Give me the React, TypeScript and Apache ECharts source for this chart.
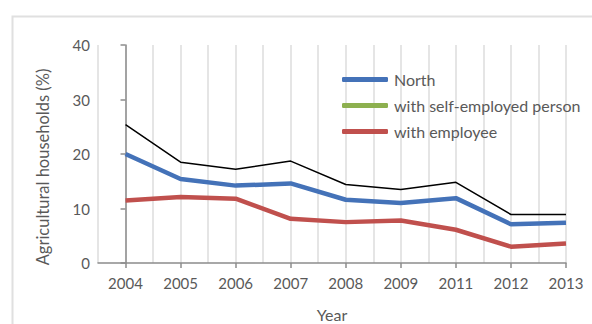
import React, { useEffect, useRef } from "react";
import * as echarts from "echarts";

const years = ["2004", "2005", "2006", "2007", "2008", "2009", "2011", "2012", "2013"];
const total = [25.4, 18.5, 17.2, 18.7, 14.4, 13.5, 14.8, 8.9, 8.9];
const north = [20.0, 15.4, 14.2, 14.6, 11.6, 11.0, 11.9, 7.1, 7.4];
const selfEmployed: (number | null)[] = [];
const employee = [11.45, 12.1, 11.8, 8.1, 7.5, 7.8, 6.1, 3.0, 3.6];
const yTicks = [0, 10, 20, 30, 40];

const FONT = "Lato, 'Open Sans', sans-serif";
const GRAY = "#595959";
const AXIS = "#8c8c8c";

function toPoints(arr: (number | null)[]) {
  return arr.map((v, i) => [i, v]);
}

export default function App() {
  const ref = useRef<HTMLDivElement>(null);
  useEffect(() => {
    if (!ref.current) return;
    const chart = echarts.init(ref.current, undefined, { renderer: "svg" });
    const idx = years.map((_, i) => i);
    chart.setOption({
      animation: false,
      backgroundColor: "#ffffff",
      graphic: [
        {
          type: "rect",
          left: 10,
          top: 14,
          shape: { width: 620, height: 360 },
          style: { fill: "none", stroke: "#e0e0e0", lineWidth: 2 },
          silent: true,
          z: -1,
        },
      ],
      grid: {
        left: 98,
        right: 26,
        top: 45,
        bottom: 61,
        containLabel: false,
        outerBoundsMode: "none",
      },
      legend: {
        orient: "vertical",
        left: 342,
        top: 70,
        padding: 0,
        itemWidth: 46,
        itemHeight: 5,
        itemGap: 7,
        itemStyle: { borderWidth: 0 },
        icon: "roundRect",
        textStyle: { color: GRAY, fontFamily: FONT, fontSize: 16, lineHeight: 19, padding: [0, 0, 0, 1] },
        data: ["North", "with self-employed person", "with employee"],
      },
      xAxis: [
        {
          type: "value",
          min: -0.5,
          max: years.length - 1,
          interval: 0.5,
          name: "Year",
          nameLocation: "middle",
          nameGap: 43,
          nameTextStyle: { color: GRAY, fontFamily: FONT, fontSize: 16 },
          axisLine: { show: true, onZero: false, lineStyle: { color: AXIS, width: 1.5 } },
          axisTick: {
            show: true,
            length: 5,
            customValues: idx,
            lineStyle: { color: AXIS, width: 1.5 },
          },
          axisLabel: {
            customValues: idx,
            color: GRAY,
            fontFamily: FONT,
            fontSize: 15,
            margin: 12,
            formatter: (v: number) => years[Math.round(v)] ?? "",
          },
          splitLine: { show: false },
          z: 3,
        },
        {
          type: "value",
          position: "bottom",
          min: -0.5,
          max: years.length - 1,
          interval: 0.5,
          axisLine: { show: false },
          axisTick: { show: false },
          axisLabel: { show: false },
          splitLine: { show: true, lineStyle: { color: "#dcdcdc", width: 1.5 } },
          z: 0,
        },
      ],
      yAxis: {
        type: "value",
        min: yTicks[0],
        max: yTicks[yTicks.length - 1],
        interval: 10,
        name: "Agricultural households (%)",
        nameLocation: "middle",
        nameGap: 47,
        nameTextStyle: { color: GRAY, fontFamily: FONT, fontSize: 16.5, padding: [0, 26, 0, 0] },
        axisLine: { show: true, lineStyle: { color: AXIS, width: 1.5 } },
        axisTick: { show: true, length: 5, lineStyle: { color: AXIS, width: 1.5 } },
        axisLabel: { color: GRAY, fontFamily: FONT, fontSize: 15, margin: 8 },
        splitLine: { show: false },
      },
      series: [
        {
          name: "Total",
          type: "line",
          xAxisIndex: 0,
          data: toPoints(total),
          symbol: "none",
          lineStyle: { color: "#000000", width: 1.5 },
          itemStyle: { color: "#000000" },
          z: 3,
        },
        {
          name: "North",
          type: "line",
          xAxisIndex: 0,
          data: toPoints(north),
          symbol: "none",
          lineStyle: { color: "#4472B8", width: 4.5 },
          itemStyle: { color: "#4472B8" },
          z: 4,
        },
        {
          name: "with self-employed person",
          type: "line",
          xAxisIndex: 0,
          data: toPoints(selfEmployed),
          symbol: "none",
          lineStyle: { color: "#8DB04F", width: 4.5 },
          itemStyle: { color: "#8DB04F" },
        },
        {
          name: "with employee",
          type: "line",
          xAxisIndex: 0,
          data: toPoints(employee),
          symbol: "none",
          lineStyle: { color: "#C0504D", width: 4.5 },
          itemStyle: { color: "#C0504D" },
          z: 4,
        },
      ],
    });
    return () => chart.dispose();
  }, []);
  return (
    <div
      ref={ref}
      style={{ position: "fixed", left: 0, top: 0, width: 592, height: 324 }}
    />
  );
}
